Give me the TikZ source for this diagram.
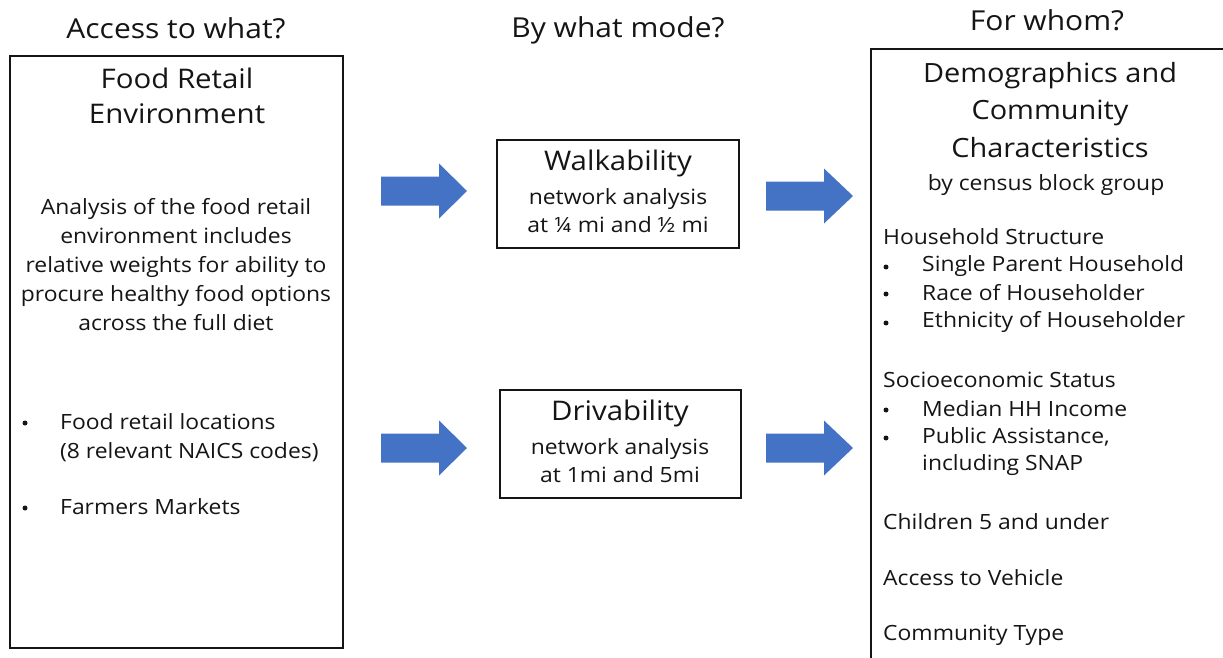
\documentclass[tikz,border=0pt]{standalone}
\usepackage{fontspec}
\setmainfont{Open Sans}[FakeStretch=1.09]
\usetikzlibrary{calc}
\definecolor{arrowblue}{HTML}{4472C4}
\definecolor{ink}{HTML}{151515}
\newcommand{\blkarrow}[5]{% name, x0, xb, x1, y
  \coordinate (#1) at (#4,#5);
  \fill[arrowblue] (#2,#5-14.5) -- (#3,#5-14.5) -- (#3,#5-27.5) -- (#4,#5) -- (#3,#5+27.5) -- (#3,#5+14.5) -- (#2,#5+14.5) -- cycle;}
\begin{document}
\begin{tikzpicture}[x=1pt,y=-1pt,
  box/.style={draw=ink, line width=1.3pt, inner sep=0},
  coltitle/.style={font=\fontsize{27.5}{32}\selectfont, text=ink, inner sep=0},
  head/.style={font=\fontsize{27}{35}\selectfont, text=ink, align=center, inner sep=0},
  body/.style={font=\fontsize{21}{29}\selectfont, text=ink, align=center, inner sep=0},
  item/.style={font=\fontsize{21}{29}\selectfont, text=ink, anchor=west, inner sep=0},
  dot/.style={fill=ink, circle, inner sep=0, minimum size=5pt}]
\useasboundingbox (0,0) rectangle (1223,658);
\clip (0,0) rectangle (1223,658);
\fill[white] (0,0) rectangle (1223,658);

% column titles
\node[coltitle] (t1) at (176,28) {Access to what?};
\node[coltitle] (t2) at (618,30) {By what mode?};
\node[coltitle] (t3) at (1047,20) {For whom?};

% left box
\node[box, minimum width=333pt, minimum height=592pt] (food) at (176.5,352) {};
\node[head] (foodh) at (177,96) {Food Retail\\Environment};
\node[body] (foodp) at (176,265) {Analysis of the food retail\\environment includes\\relative weights for ability to\\procure healthy food options\\across the full diet};
\node[dot] (b1) at (25,423) {};
\node[item] (i1) at (60,422) {Food retail locations};
\node[item] (i1b) at (60,452) {(8 relevant NAICS codes)};
\node[dot] (b2) at (25,508) {};
\node[item] (i2) at (60,507) {Farmers Markets};

% middle boxes
\node[box, minimum width=242pt, minimum height=108pt] (walk) at (618,194) {};
\node[head] (walkh) at (618,163) {Walkability};
\node[body, font=\fontsize{21}{28}\selectfont] (walkp) at (618,211) {network analysis\\at ¼ mi and ½ mi};
\node[box, minimum width=241pt, minimum height=108pt] (drive) at (620.5,444) {};
\node[head] (driveh) at (620,413) {Drivability};
\node[body, font=\fontsize{21}{28}\selectfont] (drivep) at (620,461) {network analysis\\at 1mi and 5mi};

% right box (runs past the picture's edge)
\draw[box] (871,49) rectangle (1229,700);
\node[head, font=\fontsize{26.5}{37.5}\selectfont] (demoh) at (1050,110) {Demographics and\\Community\\Characteristics};
\node[body] (demop) at (1046,185) {by census block group};
\node[item] (h1) at (883,237) {Household Structure};
\node[dot] (d1) at (886,267) {};
\node[item] (r1) at (922,266) {Single Parent Household};
\node[dot] (d2) at (886,294) {};
\node[item] (r2) at (922,293) {Race of Householder};
\node[dot] (d3) at (886,323) {};
\node[item] (r3) at (922,322) {Ethnicity of Householder};
\node[item] (h2) at (883,380) {Socioeconomic Status};
\node[dot] (d4) at (886,410) {};
\node[item] (r4) at (922,409) {Median HH Income};
\node[dot] (d5) at (886,438) {};
\node[item] (r5) at (922,437) {Public Assistance,};
\node[item] (r5b) at (922,465) {including SNAP};
\node[item] (h3) at (883,522) {Children 5 and under};
\node[item] (h4) at (883,578) {Access to Vehicle};
\node[item] (h5) at (883,635) {Community Type};

% block arrows
\blkarrow{a1}{381}{439}{467}{191}
\blkarrow{a2}{381}{439}{467}{448}
\blkarrow{a3}{766}{824}{853}{196}
\blkarrow{a4}{766}{824}{853}{448}
\end{tikzpicture}
\end{document}
